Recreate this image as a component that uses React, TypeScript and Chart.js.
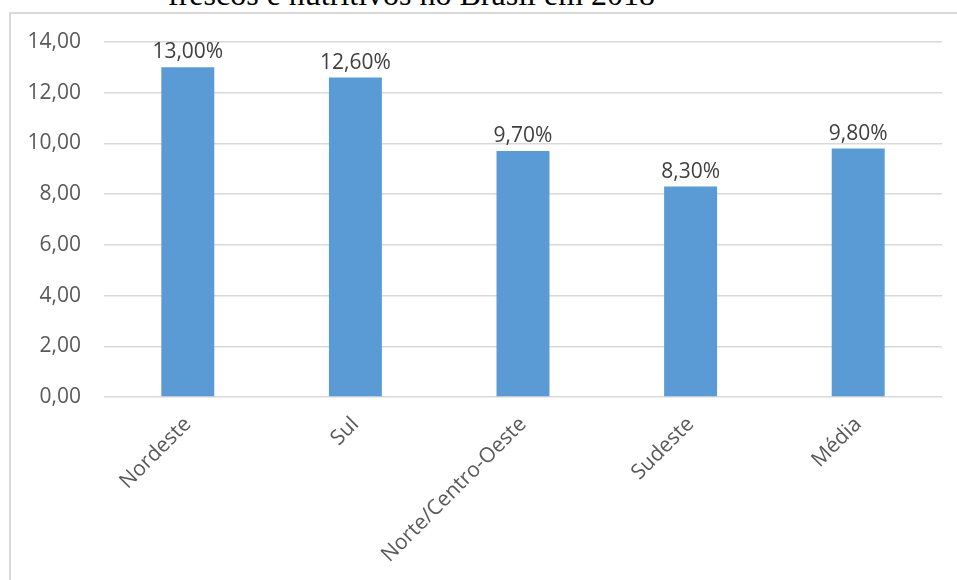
import React, { useEffect, useRef } from "react";
import { Chart, registerables } from "chart.js";

Chart.register(...registerables);

const categories = ["Nordeste", "Sul", "Norte/Centro-Oeste", "Sudeste", "Média"];
const values = [13.0, 12.6, 9.7, 8.3, 9.8];
const yTicks = [0, 2, 4, 6, 8, 10, 12, 14];
const titleText = "frescos e nutritivos no Brasil em 2018";

const FONT = "'Open Sans', sans-serif";
const fmt = (v: number) => v.toFixed(2).replace(".", ",");

const labelPlugin = {
  id: "barLabels",
  afterDatasetsDraw(chart: any) {
    const ctx = chart.ctx;
    const meta = chart.getDatasetMeta(0);
    ctx.save();
    ctx.font = `21px ${FONT}`;
    ctx.fillStyle = "#404040";
    ctx.textAlign = "center";
    ctx.textBaseline = "alphabetic";
    meta.data.forEach((bar: any, i: number) => {
      ctx.fillText(fmt(values[i]) + "%", bar.x, bar.y - 9);
    });
    ctx.restore();
  },
};

export default function App() {
  const ref = useRef<HTMLCanvasElement | null>(null);
  useEffect(() => {
    if (!ref.current) return;
    const chart = new Chart(ref.current, {
      type: "bar",
      data: {
        labels: categories,
        datasets: [
          {
            data: values,
            backgroundColor: "#5b9bd5",
            borderWidth: 0,
            barPercentage: 0.632,
            categoryPercentage: 0.5,
          },
        ],
      },
      options: {
        animation: false,
        responsive: false,
        devicePixelRatio: 1,
        layout: { padding: { top: 42, right: 15, left: 0, bottom: 0 } },
        plugins: { legend: { display: false }, tooltip: { enabled: false }, title: { display: false } },
        scales: {
          x: {
            grid: { display: false, drawTicks: false },
            border: { display: false },
            ticks: {
              font: { family: FONT, size: 21 },
              color: "#595959",
              maxRotation: 45,
              minRotation: 45,
              autoSkip: false,
              padding: 15,
            },
            afterFit: (s: any) => {
              s.height = 183;
            },
          },
          y: {
            min: 0,
            max: 14,
            afterBuildTicks: (s: any) => {
              s.ticks = yTicks.map((v) => ({ value: v }));
            },
            grid: { color: "#d9d9d9", lineWidth: 1.5, drawTicks: false },
            border: { display: false },
            ticks: {
              font: { family: FONT, size: 21 },
              color: "#595959",
              padding: 23,
              callback: (v: any) => fmt(Number(v)),
            },
            afterFit: (s: any) => {
              s.width = 104;
            },
          },
        },
      },
      plugins: [labelPlugin],
    });
    return () => chart.destroy();
  }, []);

  return (
    <div
      style={{
        position: "fixed",
        left: 0,
        top: 0,
        width: 957,
        height: 580,
        overflow: "hidden",
        background: "#ffffff",
      }}
    >
      <div
        style={{
          position: "absolute",
          left: 168,
          top: -22,
          fontFamily: "'Liberation Serif', 'Times New Roman', serif",
          fontSize: 32,
          lineHeight: "32px",
          whiteSpace: "nowrap",
          color: "#000000",
        }}
      >
        {titleText}
      </div>
      <div
        style={{
          position: "absolute",
          left: 9,
          top: 12,
          width: 960,
          height: 600,
          border: "2px solid #d9d9d9",
          boxSizing: "border-box",
        }}
      />
      <canvas
        ref={ref}
        width={957}
        height={580}
        style={{ position: "absolute", left: 0, top: 0, width: 957, height: 580 }}
      />
    </div>
  );
}
